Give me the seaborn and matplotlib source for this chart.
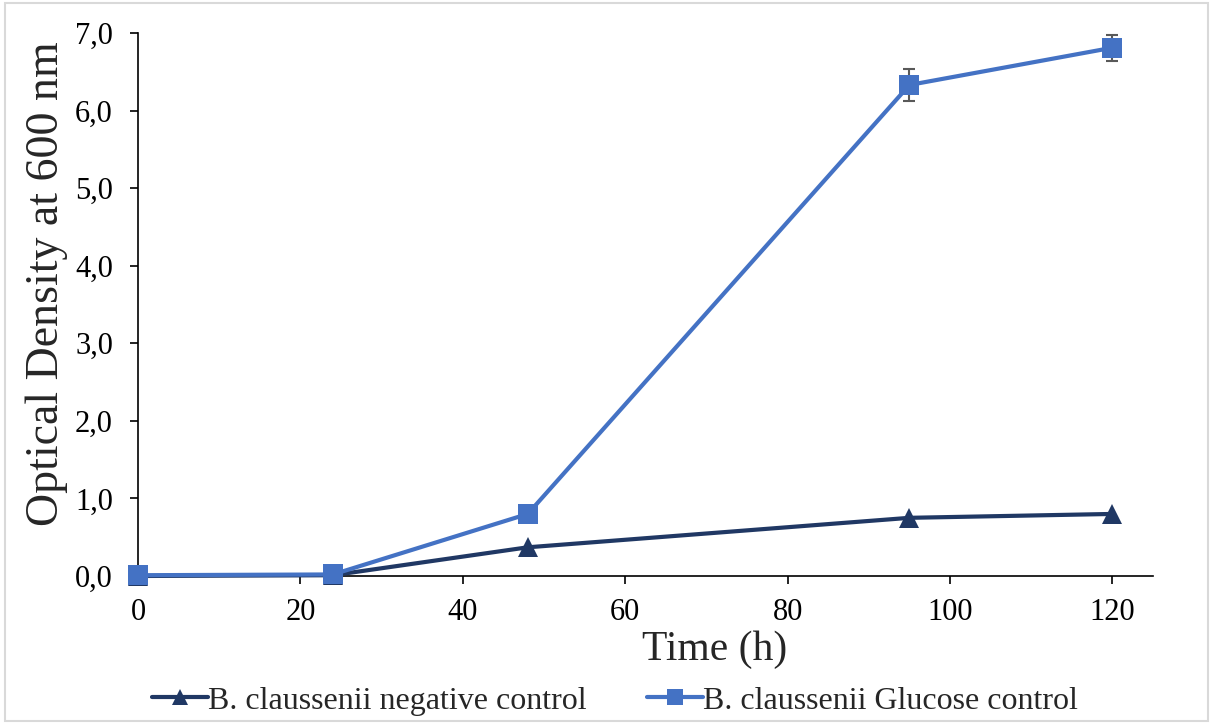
import pandas as pd
import seaborn as sns
import matplotlib.pyplot as plt
from matplotlib.ticker import FuncFormatter

# Data
time_h = [0, 24, 48, 95, 120]
od_negative = [0.00, 0.01, 0.37, 0.75, 0.80]
od_glucose = [0.01, 0.02, 0.80, 6.33, 6.81]
err_glucose = [0.0, 0.0, 0.0, 0.21, 0.17]

label_neg = 'B. claussenii negative control'
label_glu = 'B. claussenii Glucose control'

df = pd.DataFrame({
    'time': time_h * 2,
    'od': od_negative + od_glucose,
    'series': [label_neg] * len(time_h) + [label_glu] * len(time_h),
})

sns.set_style('ticks')
plt.rcParams['font.family'] = ['Liberation Serif', 'DejaVu Serif']

fig = plt.figure(figsize=(12.13, 7.24), dpi=100)
ax = fig.add_axes([138 / 1213, 1 - 576 / 724, (1153 - 138) / 1213, (576 - 33) / 724])

palette = {label_neg: '#203864', label_glu: '#4472C4'}
markers = {label_neg: '^', label_glu: 's'}

# error bars for glucose control
ax.errorbar(time_h[3:], od_glucose[3:], yerr=err_glucose[3:], fmt='none',
            ecolor='#595959', elinewidth=1.5, capsize=4.5, capthick=1.5, zorder=1)

sns.lineplot(data=df, x='time', y='od', hue='series', style='series',
             palette=palette, markers=markers, dashes=False, linewidth=3,
             markersize=14, markeredgewidth=0, ax=ax, zorder=3)

ax.set_xlim(0, 125)
ax.set_ylim(0, 7)
ax.set_xticks([0, 20, 40, 60, 80, 100, 120])
ax.set_yticks([0, 1, 2, 3, 4, 5, 6, 7])
ax.yaxis.set_major_formatter(FuncFormatter(lambda v, p: f'{v:.1f}'.replace('.', ',')))
ax.tick_params(axis='both', labelsize=22, length=6, width=1.2, colors='black')
ax.tick_params(axis='x', pad=10)
ax.tick_params(axis='y', pad=12)

for s in ['top', 'right']:
    ax.spines[s].set_visible(False)
for s in ['left', 'bottom']:
    ax.spines[s].set_linewidth(1.2)
    ax.spines[s].set_color('black')
for ln in ax.lines:
    ln.set_clip_on(False)

ax.set_xlabel('Time (h)', fontsize=30)
ax.xaxis.set_label_coords(0.568, -0.0995, transform=ax.transAxes)
ax.xaxis.label.set_verticalalignment('top')
ax.set_ylabel('Optical Density at 600 nm', fontsize=33)
ax.yaxis.set_label_coords(-0.069, 0.538, transform=ax.transAxes)

handles, labels = ax.get_legend_handles_labels()
ax.legend(handles, labels, loc='upper center', bbox_to_anchor=(0.47, -0.15),
          ncol=2, frameon=False, fontsize=23, handlelength=1.75,
          handletextpad=0.0, columnspacing=1.9, markerscale=0.8)

# light grey frame around the whole chart
fig.patches.append(plt.Rectangle((0.004, 0.004), 0.992, 0.992, transform=fig.transFigure,
                                 fill=False, edgecolor='#d9d9d9', linewidth=1.5))

fig.savefig('out.png', dpi=100)
